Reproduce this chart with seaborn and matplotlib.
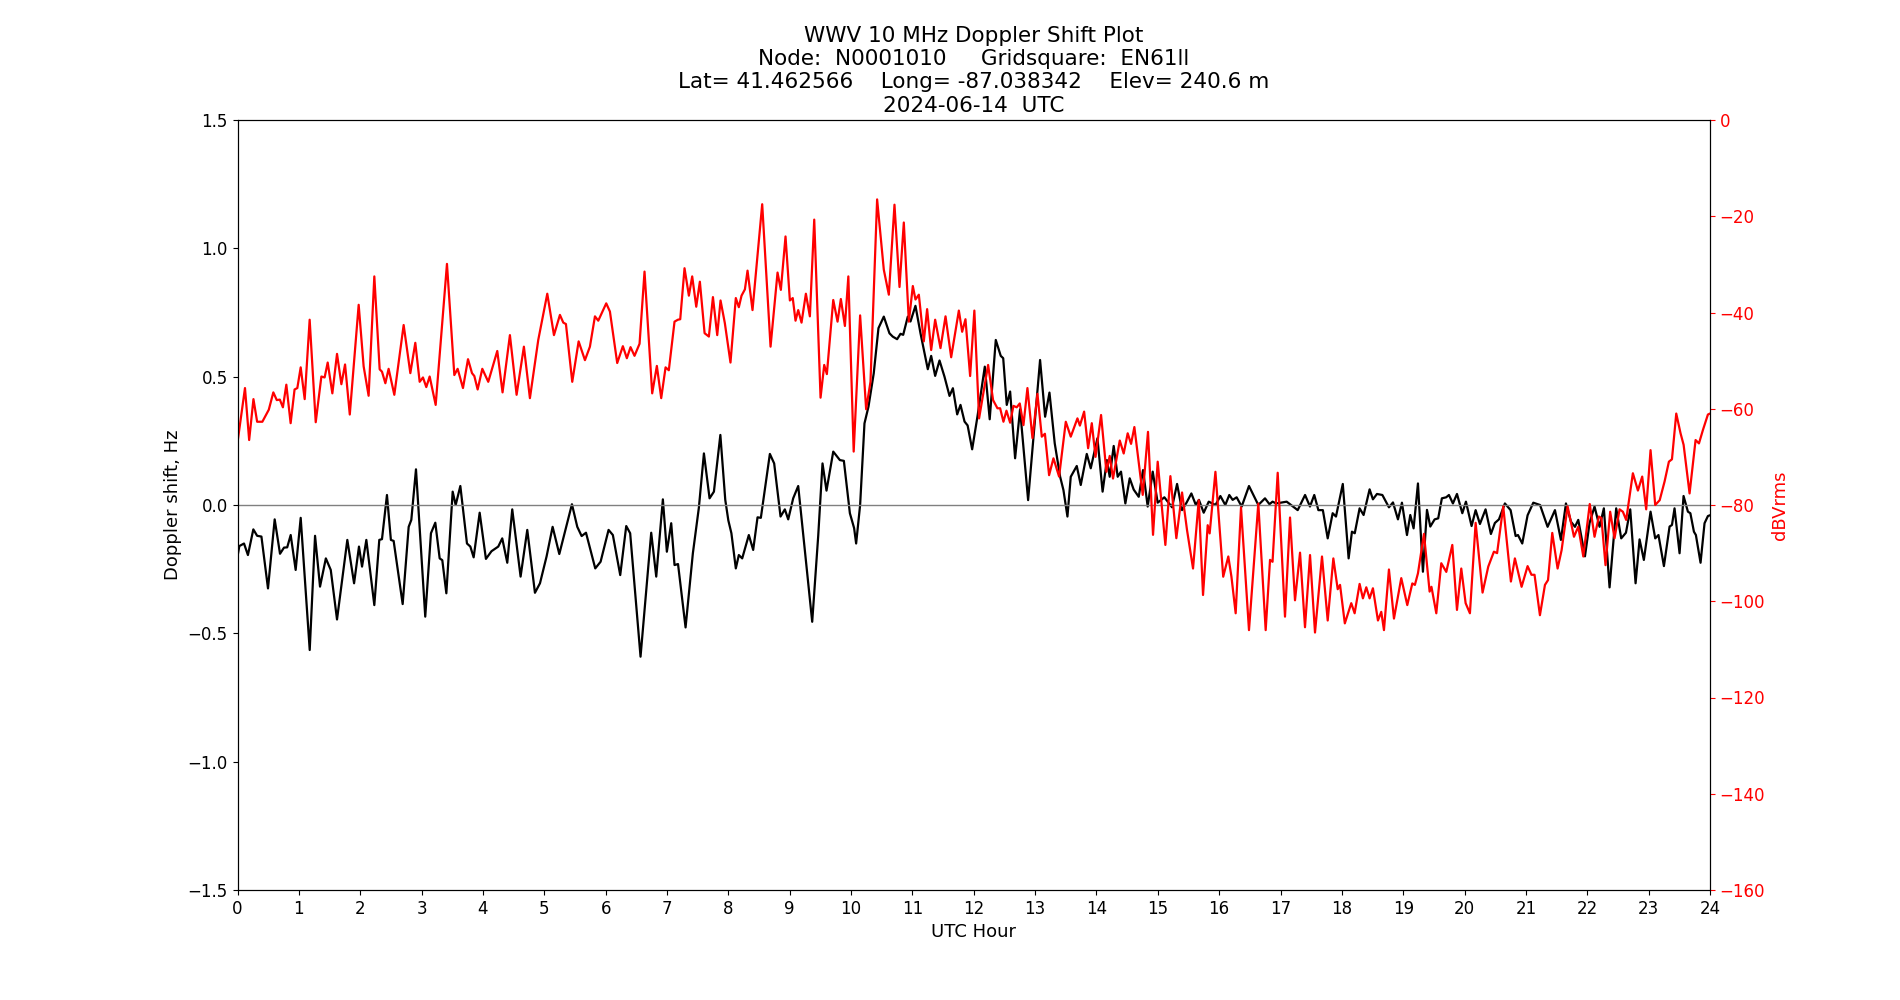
import matplotlib
matplotlib.use("Agg")
import matplotlib.pyplot as plt
import seaborn as sns

# Doppler shift (black trace)
dop_hour = [0.0, 0.03, 0.106, 0.17, 0.258, 0.32, 0.39, 0.497, 0.606, 0.693, 0.758, 0.81, 0.867, 0.948,
            1.03, 1.177, 1.264, 1.345, 1.44, 1.52, 1.622, 1.79, 1.9, 1.98, 2.03, 2.1, 2.23, 2.311,
            2.355, 2.436, 2.5, 2.545, 2.692, 2.79, 2.833, 2.909, 3.06, 3.153, 3.224, 3.295, 3.338,
            3.404, 3.507, 3.556, 3.632, 3.74, 3.795, 3.849, 3.947, 4.049, 4.14, 4.25, 4.315, 4.397,
            4.478, 4.614, 4.723, 4.848, 4.93, 5.038, 5.136, 5.245, 5.451, 5.538, 5.609, 5.68, 5.831,
            5.918, 6.048, 6.118, 6.238, 6.336, 6.4, 6.569, 6.743, 6.825, 6.933, 6.998, 7.069, 7.123,
            7.18, 7.303, 7.422, 7.52, 7.602, 7.694, 7.765, 7.87, 7.95, 8.0, 8.05, 8.122, 8.171,
            8.226, 8.334, 8.405, 8.476, 8.53, 8.677, 8.747, 8.851, 8.921, 8.976, 9.057, 9.139,
            9.367, 9.465, 9.535, 9.6, 9.71, 9.818, 9.883, 9.981, 10.05, 10.083, 10.148, 10.219,
            10.284, 10.37, 10.447, 10.534, 10.626, 10.68, 10.751, 10.806, 10.85, 10.925, 10.969,
            11.05, 11.132, 11.251, 11.306, 11.371, 11.442, 11.523, 11.605, 11.66, 11.73, 11.784,
            11.85, 11.9, 11.974, 12.06, 12.18, 12.26, 12.359, 12.44, 12.48, 12.538, 12.593, 12.674,
            12.755, 12.886, 13.081, 13.163, 13.234, 13.32, 13.408, 13.462, 13.527, 13.581, 13.679,
            13.744, 13.842, 13.907, 14.016, 14.1, 14.17, 14.216, 14.281, 14.346, 14.4, 14.471,
            14.542, 14.607, 14.689, 14.759, 14.835, 14.917, 14.998, 15.107, 15.232, 15.314, 15.395,
            15.47, 15.547, 15.62, 15.67, 15.748, 15.83, 15.94, 16.02, 16.1, 16.165, 16.22, 16.285,
            16.367, 16.486, 16.638, 16.747, 16.82, 16.87, 16.93, 17.1, 17.28, 17.4, 17.48, 17.55,
            17.617, 17.69, 17.769, 17.85, 17.904, 18.015, 18.11, 18.164, 18.21, 18.289, 18.354,
            18.452, 18.506, 18.572, 18.66, 18.767, 18.833, 18.914, 18.979, 19.061, 19.115, 19.169,
            19.24, 19.321, 19.387, 19.441, 19.512, 19.57, 19.63, 19.7, 19.745, 19.81, 19.876,
            19.963, 20.022, 20.114, 20.18, 20.25, 20.342, 20.429, 20.494, 20.56, 20.657, 20.75,
            20.832, 20.87, 20.94, 21.027, 21.12, 21.23, 21.353, 21.473, 21.57, 21.652, 21.734,
            21.799, 21.853, 21.962, 22.037, 22.118, 22.2, 22.27, 22.363, 22.471, 22.553, 22.63,
            22.7, 22.787, 22.852, 22.922, 23.031, 23.107, 23.16, 23.249, 23.341, 23.38, 23.422,
            23.504, 23.569, 23.64, 23.68, 23.738, 23.77, 23.846, 23.911, 23.966, 24.0]
dop_hz = [-0.2, -0.16, -0.15, -0.195, -0.095, -0.12, -0.123, -0.325, -0.056, -0.19, -0.166, -0.165,
          -0.117, -0.253, -0.05, -0.565, -0.12, -0.318, -0.208, -0.253, -0.446, -0.136, -0.305,
          -0.162, -0.24, -0.136, -0.39, -0.136, -0.133, 0.039, -0.136, -0.14, -0.386, -0.085,
          -0.058, 0.139, -0.435, -0.11, -0.069, -0.208, -0.215, -0.344, 0.052, 0.0, 0.074, -0.15,
          -0.162, -0.204, -0.03, -0.21, -0.18, -0.162, -0.13, -0.225, -0.017, -0.279, -0.097,
          -0.342, -0.305, -0.2, -0.085, -0.191, 0.003, -0.085, -0.121, -0.108, -0.247, -0.221,
          -0.097, -0.117, -0.273, -0.082, -0.11, -0.591, -0.108, -0.279, 0.022, -0.182, -0.071,
          -0.234, -0.23, -0.477, -0.188, -0.01, 0.201, 0.026, 0.052, 0.273, 0.02, -0.06, -0.11,
          -0.247, -0.195, -0.208, -0.117, -0.175, -0.048, -0.05, 0.199, 0.162, -0.045, -0.017,
          -0.056, 0.026, 0.074, -0.455, -0.12, 0.162, 0.056, 0.208, 0.175, 0.172, -0.032, -0.09,
          -0.15, 0.0, 0.318, 0.383, 0.513, 0.689, 0.734, 0.669, 0.656, 0.646, 0.667, 0.663, 0.734,
          0.715, 0.776, 0.669, 0.529, 0.581, 0.503, 0.563, 0.5, 0.425, 0.455, 0.353, 0.39, 0.325,
          0.31, 0.217, 0.344, 0.539, 0.334, 0.643, 0.581, 0.572, 0.39, 0.442, 0.182, 0.373,
          0.019, 0.565, 0.344, 0.438, 0.24, 0.11, 0.058, -0.045, 0.11, 0.152, 0.078, 0.199,
          0.143, 0.26, 0.052, 0.175, 0.11, 0.23, 0.11, 0.13, 0.006, 0.104, 0.06, 0.032, 0.136,
          -0.006, 0.13, 0.009, 0.03, -0.009, 0.082, -0.02, 0.01, 0.045, 0.0, 0.02, -0.03, 0.013,
          0.0, 0.035, 0.0, 0.039, 0.02, 0.03, -0.006, 0.074, 0.0, 0.026, 0.003, 0.013, 0.006,
          0.013, -0.02, 0.039, -0.006, 0.039, -0.02, -0.02, -0.13, -0.032, -0.045, 0.082, -0.208,
          -0.104, -0.11, -0.013, -0.039, 0.061, 0.022, 0.043, 0.039, -0.009, 0.01, -0.056, 0.009,
          -0.117, -0.039, -0.091, 0.084, -0.26, -0.019, -0.084, -0.056, -0.052, 0.026, 0.03,
          0.039, 0.006, 0.043, -0.032, 0.013, -0.082, -0.02, -0.074, -0.017, -0.113, -0.07,
          -0.056, 0.006, -0.02, -0.121, -0.117, -0.15, -0.04, 0.009, 0.0, -0.085, -0.02, -0.136,
          0.006, -0.065, -0.085, -0.058, -0.2, -0.07, -0.006, -0.085, -0.013, -0.321, -0.013,
          -0.13, -0.108, -0.017, -0.305, -0.134, -0.214, -0.026, -0.13, -0.117, -0.238, -0.084,
          -0.078, -0.013, -0.188, 0.035, -0.026, -0.032, -0.104, -0.117, -0.225, -0.071, -0.043,
          -0.04]

# Received signal level (red trace)
amp_hour = [0.0, 0.122, 0.19, 0.26, 0.32, 0.405, 0.51, 0.584, 0.64, 0.69, 0.74, 0.796, 0.866, 0.93,
            0.975, 1.03, 1.095, 1.176, 1.275, 1.367, 1.42, 1.47, 1.546, 1.622, 1.693, 1.753, 1.83,
            1.975, 2.056, 2.137, 2.23, 2.317, 2.355, 2.41, 2.463, 2.556, 2.708, 2.817, 2.898,
            2.969, 3.023, 3.077, 3.132, 3.23, 3.414, 3.534, 3.588, 3.675, 3.757, 3.822, 3.86,
            3.914, 3.99, 4.087, 4.234, 4.32, 4.44, 4.549, 4.668, 4.766, 4.902, 5.049, 5.158, 5.255,
            5.31, 5.353, 5.456, 5.56, 5.663, 5.744, 5.826, 5.88, 6.01, 6.07, 6.189, 6.281, 6.346,
            6.406, 6.471, 6.553, 6.634, 6.759, 6.835, 6.906, 6.977, 7.03, 7.123, 7.178, 7.216,
            7.286, 7.357, 7.411, 7.477, 7.536, 7.613, 7.683, 7.749, 7.819, 7.873, 7.943, 8.035,
            8.122, 8.171, 8.215, 8.27, 8.313, 8.394, 8.552, 8.688, 8.802, 8.856, 8.932, 9.003,
            9.05, 9.095, 9.139, 9.193, 9.264, 9.329, 9.4, 9.503, 9.563, 9.606, 9.71, 9.78, 9.834,
            9.9, 9.956, 10.043, 10.148, 10.246, 10.317, 10.425, 10.534, 10.616, 10.708, 10.79,
            10.86, 10.942, 11.007, 11.05, 11.105, 11.186, 11.24, 11.306, 11.371, 11.458, 11.54,
            11.632, 11.757, 11.811, 11.865, 11.941, 12.01, 12.087, 12.234, 12.315, 12.386, 12.43,
            12.484, 12.533, 12.593, 12.647, 12.7, 12.75, 12.81, 12.875, 12.957, 13.038, 13.109,
            13.16, 13.228, 13.299, 13.391, 13.5, 13.581, 13.69, 13.73, 13.799, 13.864, 13.924,
            13.985, 14.075, 14.162, 14.216, 14.27, 14.38, 14.444, 14.509, 14.564, 14.618, 14.754,
            14.84, 14.922, 14.998, 15.123, 15.205, 15.302, 15.395, 15.476, 15.574, 15.667, 15.737,
            15.813, 15.845, 15.939, 16.066, 16.149, 16.2, 16.269, 16.356, 16.486, 16.638, 16.758,
            16.829, 16.87, 16.954, 17.073, 17.155, 17.236, 17.318, 17.399, 17.481, 17.562, 17.676,
            17.769, 17.861, 17.932, 17.97, 18.048, 18.153, 18.208, 18.289, 18.343, 18.398, 18.452,
            18.506, 18.588, 18.642, 18.686, 18.767, 18.849, 18.968, 19.066, 19.148, 19.19, 19.24,
            19.338, 19.43, 19.46, 19.539, 19.62, 19.702, 19.8, 19.876, 19.946, 20.017, 20.087,
            20.18, 20.293, 20.386, 20.478, 20.53, 20.63, 20.755, 20.82, 20.929, 21.027, 21.09,
            21.14, 21.228, 21.31, 21.36, 21.429, 21.516, 21.581, 21.679, 21.783, 21.853, 21.935,
            22.04, 22.118, 22.189, 22.23, 22.297, 22.373, 22.444, 22.526, 22.58, 22.634, 22.743,
            22.825, 22.895, 22.96, 23.031, 23.107, 23.18, 23.26, 23.33, 23.38, 23.45, 23.52, 23.57,
            23.667, 23.765, 23.82, 23.885, 23.966, 24.0]
amp_db = [-67, -55.7, -66.5, -58, -62.7, -62.7, -60.2, -56.6, -58.2, -58.1, -59.7, -55, -63, -56,
          -55.7, -51.4, -58, -41.5, -62.8, -53.3, -53.5, -50.4, -56.8, -48.6, -54.9, -50.8, -61.2,
          -38.4, -51.2, -57.3, -32.5, -51.8, -52.3, -54.7, -51.7, -57.1, -42.6, -52.6, -46.3,
          -54.4, -53.5, -55.5, -53.3, -59.2, -29.9, -53, -51.7, -55.7, -49.7, -52.6, -53.2, -56,
          -51.7, -54.4, -48, -56.6, -44.7, -57.1, -47.1, -57.8, -45.7, -36.1, -44.7, -40.5,
          -42.1, -42.4, -54.4, -46, -49.9, -47.1, -40.8, -41.7, -38.1, -39.8, -50.5, -47, -49.5,
          -47.2, -49, -46.5, -31.5, -56.8, -51.1, -57.8, -51.4, -52, -41.9, -41.5, -41.4, -30.8,
          -36.5, -32.5, -38.8, -33.6, -44.3, -45, -36.8, -44.7, -37.5, -42.2, -50.4, -37, -38.9,
          -36.5, -35.2, -31.3, -39.5, -17.5, -47.1, -31.7, -35.3, -24.2, -37.5, -37, -41.7,
          -39.5, -42.1, -36.1, -40.8, -20.7, -57.7, -50.9, -52.8, -37.4, -41.9, -37.2, -42.8,
          -32.5, -68.9, -40.6, -60.1, -54.4, -16.5, -31.1, -36.3, -17.6, -34.7, -21.3, -41.9,
          -34.5, -37.3, -36.3, -46, -39.3, -47.8, -41.5, -47.4, -40.8, -49.3, -39.6, -44, -41.4,
          -53.2, -39.6, -62, -50.9, -58.2, -59.9, -59.9, -62.7, -60.4, -62.9, -59.4, -59.7, -58.9,
          -63.4, -55.7, -66.1, -56.9, -65.8, -65.2, -73.8, -70.3, -74.1, -62.7, -65.8, -62, -63.5,
          -60.6, -68.2, -63, -70, -61.3, -73.1, -69.8, -74.5, -66.6, -69.3, -65.1, -67.3, -63.8,
          -77.9, -64.8, -86.2, -71, -88.3, -74, -86.9, -77.4, -85.2, -93.2, -79, -98.7, -84.2,
          -85.9, -73.1, -94.9, -90.7, -94.9, -102.5, -80.5, -106, -79.7, -106, -91.4, -91.8,
          -73.3, -103.2, -82.6, -99.8, -89.9, -105.4, -90.4, -106.5, -90.7, -104, -91.1, -97.5,
          -96.6, -104.6, -100.4, -102.5, -96.4, -99.4, -97.1, -99.4, -97.3, -104, -102.2, -106,
          -93.4, -103.6, -95.2, -100.8, -96.3, -96.6, -94.2, -86, -98, -97, -102.5, -92.1, -93.9,
          -88.3, -101.8, -93.2, -100.4, -102.5, -83.7, -98.2, -92.8, -89.7, -90, -80.3, -95.9,
          -91.1, -97, -92.7, -94.5, -94.5, -102.9, -96.6, -95.6, -85.8, -93.2, -89.4, -80.3,
          -86.6, -84.5, -90.7, -79.8, -86.6, -82.4, -82.7, -92.5, -81.4, -86.9, -80.9, -81.4,
          -83.1, -73.4, -77, -74.1, -80.9, -68.6, -80, -79, -75.1, -71, -70.5, -61, -65.1, -67.5,
          -77.6, -66.5, -67.2, -64.4, -61.2, -61]

hour_ticks = list(range(0, 25))
title_lines = ["WWV 10 MHz Doppler Shift Plot",
               "Node:  N0001010     Gridsquare:  EN61ll",
               "Lat= 41.462566    Long= -87.038342    Elev= 240.6 m",
               "2024-06-14  UTC"]

fig, ax = plt.subplots(figsize=(19, 10), dpi=100)

# doppler shift on the left axis
sns.lineplot(x=dop_hour, y=dop_hz, ax=ax, color='black', linewidth=1.6,
             sort=False, estimator=None)
ax.axhline(0, color='gray', linewidth=1)
ax.set_xlim(0, 24)
ax.set_ylim(-1.5, 1.5)
ax.set_xticks(hour_ticks)
ax.set_xlabel('UTC Hour', fontsize=13)
ax.set_ylabel('Doppler shift, Hz', fontsize=13)
ax.tick_params(labelsize=12)
ax.set_title('\n'.join(title_lines), fontsize=15.5)

# signal level on a second axis
ax2 = ax.twinx()
sns.lineplot(x=amp_hour, y=amp_db, ax=ax2, color='red', linewidth=1.6,
             sort=False, estimator=None)
ax2.set_ylim(-160, 0)
ax2.set_ylabel('dBVrms', color='red', fontsize=13)
ax2.tick_params(axis='y', colors='red', labelsize=12)

plt.savefig('out.png', dpi=100)
